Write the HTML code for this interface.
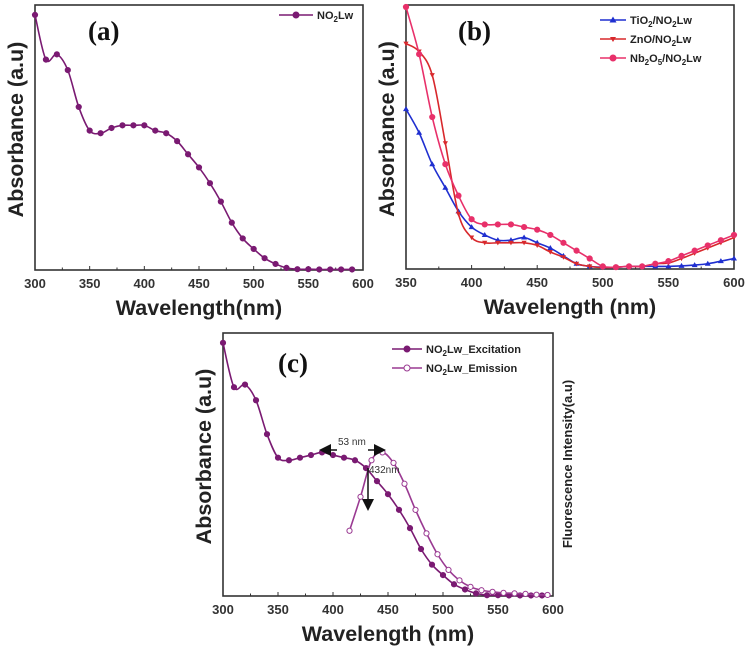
<!DOCTYPE html>
<html><head><meta charset="utf-8"><style>
html,body{margin:0;padding:0;background:#fff;}
svg{display:block;font-family:"Liberation Sans",sans-serif;}
.tk{font-size:13px;font-weight:bold;fill:#333;}
.ax{font-size:21.5px;font-weight:bold;fill:#222;}
.pl{font-family:"Liberation Serif",serif;font-size:27px;font-weight:bold;fill:#111;}
.lg{font-size:11px;font-weight:bold;fill:#222;}
</style></head><body>
<svg id="fig" width="750" height="650" viewBox="0 0 750 650" xmlns="http://www.w3.org/2000/svg"></svg>
<script>
// ---- data ----
const wlA = [300,310,320,330,340,350,360,370,380,390,400,410,420,430,440,450,460,470,480,490,500,510,520,530,540,550,560,570,580,590];
const absA = [0.97,0.80,0.82,0.76,0.62,0.53,0.52,0.54,0.55,0.55,0.55,0.53,0.52,0.49,0.44,0.39,0.33,0.26,0.18,0.12,0.08,0.045,0.023,0.008,0.003,0.003,0.002,0.002,0.002,0.002];
const wlB = [350,360,370,380,390,400,410,420,430,440,450,460,470,480,490,500,510,520,530,540,550,560,570,580,590,600];
const absTi = [0.61,0.52,0.40,0.31,0.22,0.16,0.13,0.11,0.11,0.12,0.10,0.08,0.05,0.02,0.01,0.007,0.007,0.01,0.01,0.01,0.01,0.012,0.015,0.02,0.03,0.04];
const absZn = [0.86,0.83,0.74,0.48,0.21,0.12,0.10,0.10,0.10,0.10,0.09,0.065,0.045,0.02,0.01,0.005,0.007,0.01,0.01,0.02,0.023,0.04,0.06,0.08,0.10,0.12];
const absNb = [1.0,0.82,0.58,0.40,0.28,0.19,0.17,0.17,0.17,0.16,0.15,0.13,0.10,0.07,0.04,0.01,0.007,0.01,0.01,0.02,0.03,0.05,0.07,0.09,0.11,0.13];
const wlExc = [300,310,320,330,340,350,360,370,380,390,400,410,420,430,440,450,460,470,480,490,500,510,520,530,540,550,560,570,580,590];
const absExc = [0.97,0.80,0.81,0.75,0.62,0.53,0.52,0.53,0.54,0.55,0.54,0.53,0.52,0.49,0.44,0.39,0.33,0.26,0.18,0.12,0.08,0.045,0.025,0.01,0.003,0.003,0.002,0.002,0.002,0.002];
const wlEm = [415,425,435,445,455,465,475,485,495,505,515,525,535,545,555,565,575,585,595];
const intEm = [0.25,0.38,0.52,0.55,0.51,0.43,0.33,0.24,0.16,0.10,0.06,0.035,0.022,0.016,0.012,0.01,0.008,0.005,0.004];
const ticksA = [300,350,400,450,500,550,600];
const ticksB = [350,400,450,500,550,600];

const NS="http://www.w3.org/2000/svg";
const svg=document.getElementById('fig');
function mk(tag,attrs,parent,txt){const e=document.createElementNS(NS,tag);for(const k in attrs)e.setAttribute(k,attrs[k]);if(txt!==undefined)e.textContent=txt;(parent||svg).appendChild(e);return e;}
function smooth(pts){let d=`M${pts[0][0]},${pts[0][1]}`;for(let i=0;i<pts.length-1;i++){const p0=pts[i-1]||pts[i],p1=pts[i],p2=pts[i+1],p3=pts[i+2]||p2;const c1x=p1[0]+(p2[0]-p0[0])/6,c1y=p1[1]+(p2[1]-p0[1])/6,c2x=p2[0]-(p3[0]-p1[0])/6,c2y=p2[1]-(p3[1]-p1[1])/6;d+=`C${c1x},${c1y} ${c2x},${c2y} ${p2[0]},${p2[1]}`;}return d;}

function panel(o){
  const g=mk('g',{});
  
  
  const sx=v=>o.x0+(v-o.xmin)/(o.xmax-o.xmin)*(o.x1-o.x0);
  const sy=v=>o.y1-v*(o.y1-o.y0-2);
  const box=mk('rect',{x:o.x0,y:o.y0,width:o.x1-o.x0,height:o.y1-o.y0,fill:'none',stroke:'#333','stroke-width':1.6},g);
  
  o.ticks.forEach(t=>{
    mk('line',{x1:sx(t),x2:sx(t),y1:o.y1,y2:o.y1-4,stroke:'#333','stroke-width':1},g);
    const tl=mk('text',{x:sx(t),y:o.y1+18,'text-anchor':'middle',class:'tk'},g,String(t));
    
  });
  for(let t=o.xmin+25;t<o.xmax;t+=50) mk('line',{x1:sx(t),x2:sx(t),y1:o.y1,y2:o.y1-2.5,stroke:'#333','stroke-width':1},g);
  const xt=mk('text',{x:(o.x0+o.x1)/2,y:o.y1+45,'text-anchor':'middle',class:'ax'},g,o.xtitle);
  
  const yt=mk('text',{x:0,y:0,'text-anchor':'middle',class:'ax',transform:`translate(${o.x0-12},${(o.y0+o.y1)/2-8}) rotate(-90)`},g,'Absorbance (a.u)');
  
  const pl=mk('text',{x:o.lx,y:o.ly,class:'pl'},g,o.label);
  
  o.series.forEach(s=>{
    const sg=mk('g',{},g);
    
    const pts=s.x.map((w,i)=>[sx(w),sy(s.y[i])]);
    mk('path',{d:smooth(pts),fill:'none',stroke:s.color,'stroke-width':1.6},sg);
    pts.forEach(p=>{
      if(s.marker==='tri') mk('path',{d:`M${p[0]},${p[1]-3}L${p[0]+3},${p[1]+2}L${p[0]-3},${p[1]+2}Z`,fill:s.color},sg);
      else if(s.marker==='star') mk('path',{d:`M${p[0]-2.6},${p[1]-2}L${p[0]+2.6},${p[1]-2}L${p[0]},${p[1]+2.6}Z`,fill:s.color},sg);
      else mk('circle',{cx:p[0],cy:p[1],r:2.6,fill:s.marker==='open'?'#fff':s.color,stroke:s.color,'stroke-width':1},sg);
    });
  });
  return {g,sx,sy};
}
function legend(x,y,items,w){
  items.forEach((it,i)=>{
    const lg=mk('g',{});
    
    const yy=y+i*19;
    mk('line',{x1:x,x2:x+w,y1:yy,y2:yy,stroke:it.color,'stroke-width':1.6},lg);
    const cx=x+w/2;
    if(it.marker==='tri') mk('path',{d:`M${cx},${yy-3.5}L${cx+3.5},${yy+2.5}L${cx-3.5},${yy+2.5}Z`,fill:it.color},lg);
    else if(it.marker==='star') mk('path',{d:`M${cx-3},${yy-2}L${cx+3},${yy-2}L${cx},${yy+3}Z`,fill:it.color},lg);
    else mk('circle',{cx:cx,cy:yy,r:3,fill:it.marker==='open'?'#fff':it.color,stroke:it.color},lg);
    const t=mk('text',{x:x+w+4,y:yy+4,class:'lg'},lg);
    t.innerHTML=it.label;
  });
}
const P='#7a1a72';
panel({name:'panel-a',x0:35,x1:363,y0:5,y1:270,xmin:300,xmax:600,ticks:ticksA,xtitle:'Wavelength(nm)',label:'(a)',lx:88,ly:40,
  series:[{name:'series-no2lw',x:wlA,y:absA,color:P,marker:'dot'}]});
legend(279,15,[{color:P,marker:'dot',label:'NO<tspan font-size="8" dy="3">2</tspan><tspan dy="-3">Lw</tspan>'}],34);
panel({name:'panel-b',x0:406,x1:734,y0:5,y1:269,xmin:350,xmax:600,ticks:ticksB,xtitle:'Wavelength (nm)',label:'(b)',lx:458,ly:40,
  series:[{name:'series-tio2',x:wlB,y:absTi,color:'#1f2fd0',marker:'tri'},{name:'series-zno',x:wlB,y:absZn,color:'#d8282c',marker:'star'},{name:'series-nb2o5',x:wlB,y:absNb,color:'#e8306a',marker:'dot'}]});
legend(600,20,[{color:'#1f2fd0',marker:'tri',label:'TiO<tspan font-size="8" dy="3">2</tspan><tspan dy="-3">/NO</tspan><tspan font-size="8" dy="3">2</tspan><tspan dy="-3">Lw</tspan>'},
  {color:'#d8282c',marker:'star',label:'ZnO/NO<tspan font-size="8" dy="3">2</tspan><tspan dy="-3">Lw</tspan>'},
  {color:'#e8306a',marker:'dot',label:'Nb<tspan font-size="8" dy="3">2</tspan><tspan dy="-3">O</tspan><tspan font-size="8" dy="3">5</tspan><tspan dy="-3">/NO</tspan><tspan font-size="8" dy="3">2</tspan><tspan dy="-3">Lw</tspan>'}],26);
const pc=panel({name:'panel-c',x0:223,x1:553,y0:333,y1:596,xmin:300,xmax:600,ticks:ticksA,xtitle:'Wavelength (nm)',label:'(c)',lx:278,ly:372,
  series:[{name:'series-excitation',x:wlExc,y:absExc,color:P,marker:'dot'},{name:'series-emission',x:wlEm,y:intEm,color:'#9a3a92',marker:'open'}]});
legend(392,349,[{color:P,marker:'dot',label:'NO<tspan font-size="8" dy="3">2</tspan><tspan dy="-3">Lw_Excitation</tspan>'},{color:'#9a3a92',marker:'open',label:'NO<tspan font-size="8" dy="3">2</tspan><tspan dy="-3">Lw_Emission</tspan>'}],30);
const ry=mk('text',{x:0,y:0,'text-anchor':'middle',style:'font-size:13px;font-weight:bold;fill:#222',transform:'translate(572,464) rotate(-90)'},svg,'Fluorescence Intensity(a.u)');

// annotations
const an=mk('g',{});

mk('defs',{},an).innerHTML='<marker id="ah" markerWidth="8" markerHeight="8" refX="6" refY="4" orient="auto"><path d="M0,0L8,4L0,8Z" fill="#111"/></marker>';
mk('line',{x1:337,y1:450,x2:322,y2:450,stroke:'#111','stroke-width':1.5,'marker-end':'url(#ah)'},an);
mk('line',{x1:368,y1:450,x2:383,y2:450,stroke:'#111','stroke-width':1.5,'marker-end':'url(#ah)'},an);
mk('text',{x:338,y:445,style:'font-size:10px;fill:#333'},an,'53 nm');
mk('line',{x1:368,y1:468,x2:368,y2:508,stroke:'#111','stroke-width':1.5,'marker-end':'url(#ah)'},an);
mk('text',{x:369,y:473,style:'font-size:10px;fill:#333'},an,'432nm');
</script>
</body></html>
